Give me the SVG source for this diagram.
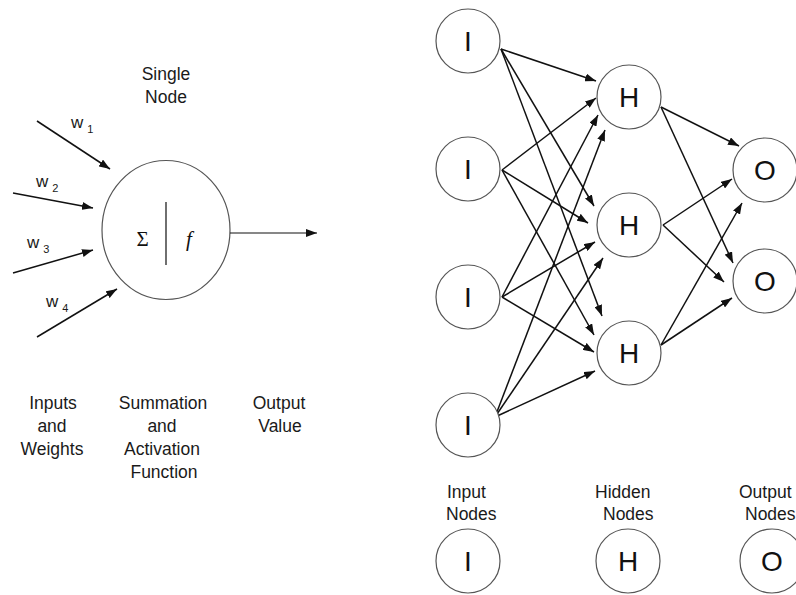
<svg xmlns="http://www.w3.org/2000/svg" width="796" height="595" viewBox="0 0 796 595">
<defs>
<marker id="ah" markerUnits="userSpaceOnUse" markerWidth="11" markerHeight="8" refX="11" refY="4" orient="auto">
<path d="M0,0 L11,4 L0,8 z" fill="#111"/>
</marker>
<style>
.lbl{font-family:"Liberation Sans",Arial,sans-serif;font-size:17.5px;fill:#1a1a1a;text-anchor:middle}
.leg{font-family:"Liberation Sans",Arial,sans-serif;font-size:17.5px;fill:#1a1a1a}
.w{font-family:"Liberation Sans",Arial,sans-serif;font-size:17px;fill:#1a1a1a}
.sub{font-size:11px}
.nd{fill:#fff;stroke:#555;stroke-width:1.2}
.let{font-family:"Liberation Sans",Arial,sans-serif;font-size:28px;fill:#111;text-anchor:middle}
.cn{stroke:#111;stroke-width:1.5;fill:none;marker-end:url(#ah)}
</style>
</defs>
<rect width="796" height="595" fill="#fff"/>

<g id="single-node">
<ellipse cx="166" cy="230" rx="64" ry="69.5" class="nd"/>
<line x1="166" y1="202" x2="166" y2="265" stroke="#333" stroke-width="1.4"/>
<text x="142.5" y="246" font-family="'Liberation Serif',serif" font-size="21" fill="#111" text-anchor="middle">Σ</text>
<text x="189" y="246" font-family="'Liberation Serif',serif" font-size="21" font-style="italic" fill="#111" text-anchor="middle">f</text>
<text x="166" y="80" class="lbl">Single</text>
<text x="166" y="103" class="lbl">Node</text>
</g>

<g id="weights">
<text x="71" y="128" class="w">w<tspan dx="4" dy="5" class="sub">1</tspan></text>
<text x="36" y="187" class="w">w<tspan dx="4" dy="5" class="sub">2</tspan></text>
<text x="27" y="248" class="w">w<tspan dx="4" dy="5" class="sub">3</tspan></text>
<text x="46" y="307" class="w">w<tspan dx="4" dy="5" class="sub">4</tspan></text>
</g>

<g id="single-labels">
<text x="53" y="409" class="lbl">Inputs</text>
<text x="52" y="432" class="lbl">and</text>
<text x="52" y="455" class="lbl">Weights</text>
<text x="163" y="409" class="lbl">Summation</text>
<text x="162" y="432" class="lbl">and</text>
<text x="162" y="455" class="lbl">Activation</text>
<text x="164" y="478" class="lbl">Function</text>
<text x="279" y="409" class="lbl">Output</text>
<text x="280" y="432" class="lbl">Value</text>
</g>

<g id="connectors">
<path class="cn" d="M37,121 L110,169"/>
<path class="cn" d="M13,193 L93,208"/>
<path class="cn" d="M13,273 L93,250"/>
<path class="cn" d="M37,337 L117,289"/>
<path d="M230,233 L317,233" stroke="#111" stroke-width="1.1" fill="none" marker-end="url(#ah)"/>

<path class="cn" d="M501,49 L596,81"/>
<path class="cn" d="M501,49 L594,206"/>
<path class="cn" d="M501,49 L602,316"/>
<path class="cn" d="M502,170 L596,98"/>
<path class="cn" d="M502,170 L588,223"/>
<path class="cn" d="M502,170 L594,335"/>
<path class="cn" d="M502,297 L598,115"/>
<path class="cn" d="M502,297 L595,242"/>
<path class="cn" d="M502,297 L594,352"/>
<path class="cn" d="M495,417 L605,130"/>
<path class="cn" d="M495,417 L603,258"/>
<path class="cn" d="M495,417 L595,371"/>

<path class="cn" d="M661,107 L739,146"/>
<path class="cn" d="M661,107 L733,263"/>
<path class="cn" d="M663,225 L732,179"/>
<path class="cn" d="M663,225 L724,282"/>
<path class="cn" d="M661,345 L742,203"/>
<path class="cn" d="M661,345 L732,298"/>
</g>

<g id="I1"><circle cx="468" cy="41" r="32" class="nd"/><text x="468" y="51" class="let">I</text></g>
<g id="I2"><circle cx="468" cy="169" r="32" class="nd"/><text x="468" y="179" class="let">I</text></g>
<g id="I3"><circle cx="468" cy="297" r="32" class="nd"/><text x="468" y="307" class="let">I</text></g>
<g id="I4"><circle cx="468" cy="425" r="32" class="nd"/><text x="468" y="435" class="let">I</text></g>
<g id="H1"><circle cx="629" cy="97" r="32" class="nd"/><text x="629" y="107" class="let">H</text></g>
<g id="H2"><circle cx="629" cy="225" r="32" class="nd"/><text x="629" y="235" class="let">H</text></g>
<g id="H3"><circle cx="629" cy="353" r="32" class="nd"/><text x="629" y="363" class="let">H</text></g>
<g id="O1"><circle cx="765" cy="170" r="32" class="nd"/><text x="765" y="180" class="let">O</text></g>
<g id="O2"><circle cx="765" cy="281" r="32" class="nd"/><text x="765" y="291" class="let">O</text></g>

<g id="legend">
<text x="447" y="498" class="leg">Input</text>
<text x="446" y="520" class="leg">Nodes</text>
<text x="595" y="498" class="leg">Hidden</text>
<text x="603" y="520" class="leg">Nodes</text>
<text x="739" y="498" class="leg">Output</text>
<text x="745" y="520" class="leg">Nodes</text>
</g>
<g id="legend-I"><circle cx="468" cy="561" r="32" class="nd"/><text x="468" y="571" class="let">I</text></g>
<g id="legend-H"><circle cx="628" cy="561" r="32" class="nd"/><text x="628" y="571" class="let">H</text></g>
<g id="legend-O"><circle cx="772" cy="561" r="32" class="nd"/><text x="772" y="571" class="let">O</text></g>
</svg>
